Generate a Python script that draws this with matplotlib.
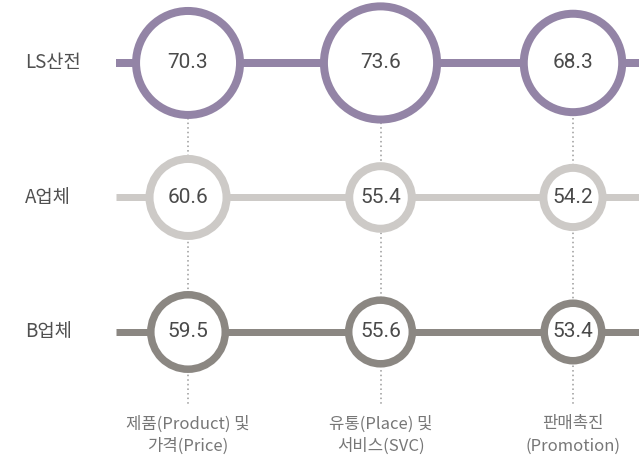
import matplotlib.pyplot as plt

# Data
companies = ['LS산전', 'A업체', 'B업체']
categories = ['제품(Product) 및\n가격(Price)', '유통(Place) 및\n서비스(SVC)', '판매촉진\n(Promotion)']
ls_values = [70.3, 73.6, 68.3]
a_values = [60.6, 55.4, 54.2]
b_values = [59.5, 55.6, 53.4]

series = [ls_values, a_values, b_values]
colors = ['#9384a6', '#cdcac7', '#8b8782']
ring_px = [8, 8, 7.5]
line_px = [8, 7, 7]

korean = ['Noto Sans CJK KR', 'DejaVu Sans']
numfont = ['Roboto', 'DejaVu Sans']

fig = plt.figure(figsize=(6.39, 4.63), dpi=100)
ax = fig.add_axes([0, 0, 1, 1])
ax.set_xlim(-0.977, 2.343)
ax.set_ylim(2.974, -0.468)
ax.axis('off')

px = 0.72  # points per pixel at 100 dpi


def outer_radius(v):
    # circle size grows with the score
    return 32.5 + 1.39 * (v - 53.4)


cols = range(len(categories))

# dotted guides
ax.vlines(list(cols), 0, 2.55, colors='#9a9a9a', linestyles=(0, (1, 2)),
          linewidth=1.1, zorder=1)

for row, (vals, c) in enumerate(zip(series, colors)):
    ax.hlines(row, -0.374, 2.5, colors=c, linewidth=line_px[row] * px, zorder=2)
    sizes = [(2 * (outer_radius(v) - ring_px[row] / 2) * px) ** 2 for v in vals]
    ax.scatter(list(cols), [row] * len(vals), s=sizes, facecolor='white',
               edgecolor=c, linewidth=ring_px[row] * px, zorder=3)
    for i, v in enumerate(vals):
        ax.text(i, row, f'{v:.1f}', ha='center', va='center', fontsize=15,
                color='#4a4a4a', family=numfont, zorder=4)
    ax.text(-0.845, row, companies[row], ha='left', va='center', fontsize=13.5,
            color='#505050', family=korean)

for i, lab in enumerate(categories):
    ax.text(i, 2.62, lab, ha='center', va='top', fontsize=12,
            color='#777777', family=korean, linespacing=1.4)

fig.savefig('out.png', dpi=100)
